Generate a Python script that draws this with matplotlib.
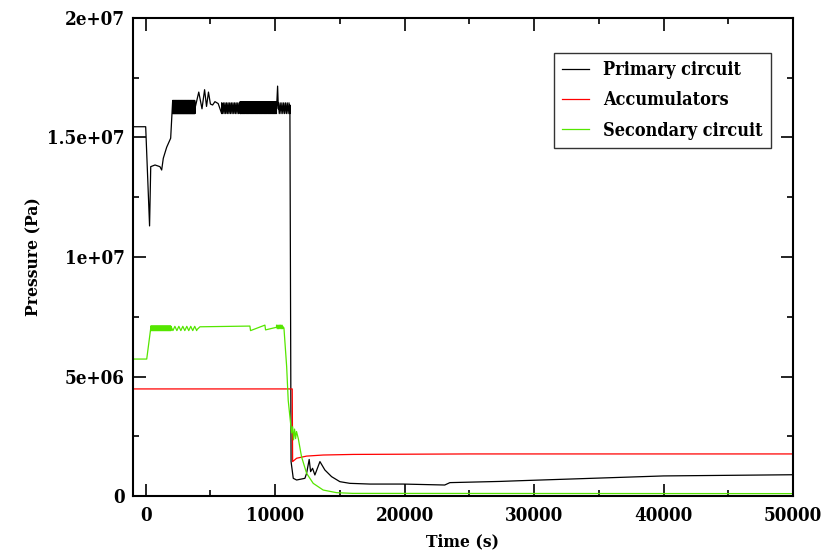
import numpy as np
import matplotlib
matplotlib.use("Agg")
import matplotlib.pyplot as plt
from matplotlib.ticker import MultipleLocator

# key points: time (s), pressure (Pa)
primary_t = [-2000, 0, 300, 390, 720, 1100, 1235, 1360, 1620, 1930, 2085]
primary_p = [1.545e7, 1.545e7, 1.13e7, 1.378e7, 1.385e7, 1.378e7, 1.364e7, 1.413e7, 1.459e7, 1.497e7, 1.654e7]
primary_mid_t = [3800, 4100, 4350, 4550, 4700, 4850, 5000, 5170, 5350, 5600, 5870]
primary_mid_p = [1.62e7, 1.69e7, 1.62e7, 1.70e7, 1.63e7, 1.69e7, 1.64e7, 1.636e7, 1.65e7, 1.642e7, 1.60e7]
primary_spike_t = [10100, 10190, 10250]
primary_spike_p = [1.61e7, 1.715e7, 1.62e7]
primary_end_t = [11140, 11230, 11400, 11660, 12300, 12430, 12630, 12740, 12890, 13070, 13460,
                 13840, 14360, 15000, 15770, 17320, 19870, 23100, 23500, 27350, 28900, 40000, 50000]
primary_end_p = [1.636e7, 1.44e6, 0.74e6, 0.67e6, 0.74e6, 0.95e6, 1.53e6, 1.02e6, 1.16e6, 0.88e6, 1.44e6,
                 1.09e6, 0.81e6, 0.60e6, 0.53e6, 0.50e6, 0.50e6, 0.46e6, 0.56e6, 0.61e6, 0.64e6, 0.84e6, 0.89e6]
# oscillating stretches: (start, end, low, high, cycles)
primary_bands = [(2085, 3800, 1.60e7, 1.655e7, 60),
                 (5870, 7300, 1.60e7, 1.645e7, 12),
                 (7300, 10100, 1.60e7, 1.65e7, 45),
                 (10250, 11140, 1.60e7, 1.645e7, 7)]

accu_t = [-2000, 11320, 11350, 11660, 12430, 13710, 16030, 25000, 50000]
accu_p = [4.48e6, 4.48e6, 1.44e6, 1.58e6, 1.67e6, 1.715e6, 1.74e6, 1.76e6, 1.76e6]

second_t = [-2000, 80, 390]
second_p = [5.73e6, 5.73e6, 7.02e6]
second_mid_t = [3940, 4190, 8050, 8100, 9210, 9260, 10110]
second_mid_p = [6.95e6, 7.08e6, 7.11e6, 6.92e6, 7.15e6, 6.95e6, 7.06e6]
second_end_t = [10580, 10680, 10890, 11010, 11270, 11350, 11420, 11500, 11580, 11650, 11790,
                12040, 12430, 12940, 13710, 14740, 16000, 50000]
second_end_p = [7.1e6, 7.03e6, 5.41e6, 4.0e6, 2.64e6, 2.9e6, 2.35e6, 2.8e6, 2.4e6, 2.7e6, 2.4e6,
                1.64e6, 0.95e6, 0.53e6, 0.25e6, 0.14e6, 0.11e6, 0.10e6]
second_bands = [(390, 1950, 6.92e6, 7.11e6, 40),
                (1950, 3940, 6.92e6, 7.10e6, 7),
                (10110, 10580, 7.0e6, 7.15e6, 5)]


def zigzag(start, end, low, high, cycles):
    t = np.linspace(start, end, 2 * cycles)
    p = np.tile([high, low], cycles)
    return list(t), list(p)


def assemble(pieces):
    t, p = [], []
    for pt, pp in pieces:
        t += list(pt)
        p += list(pp)
    return t, p


b = [zigzag(*band) for band in primary_bands]
prim_t, prim_p = assemble([(primary_t, primary_p), b[0], (primary_mid_t, primary_mid_p),
                           b[1], b[2], (primary_spike_t, primary_spike_p), b[3],
                           (primary_end_t, primary_end_p)])
s = [zigzag(*band) for band in second_bands]
sec_t, sec_p = assemble([(second_t, second_p), s[0], s[1], (second_mid_t, second_mid_p),
                         s[2], (second_end_t, second_end_p)])

plt.rcParams["font.family"] = ["DejaVu Serif"]
plt.rcParams["font.stretch"] = "condensed"
plt.rcParams["font.weight"] = "bold"
plt.rcParams["axes.labelweight"] = "bold"

fig = plt.figure(figsize=(8.26, 5.57), dpi=100)
ax = fig.add_axes([0.1607, 0.1095, 0.7993, 0.8582])

ax.plot(prim_t, prim_p, color="black", lw=0.9, label="Primary circuit")
ax.plot(accu_t, accu_p, color="#ff0000", lw=0.9, label="Accumulators")
ax.plot(sec_t, sec_p, color="#55e600", lw=0.9, label="Secondary circuit")

ax.set_xlim(-1000, 50000)
ax.set_ylim(0, 2e7)
ax.xaxis.set_major_locator(MultipleLocator(10000))
ax.xaxis.set_minor_locator(MultipleLocator(5000))
ax.yaxis.set_major_locator(MultipleLocator(5e6))
ax.yaxis.set_minor_locator(MultipleLocator(2.5e6))
ax.set_yticks([0, 5e6, 1e7, 1.5e7, 2e7])
ax.set_yticklabels(["0", "5e+06", "1e+07", "1.5e+07", "2e+07"])
ax.tick_params(which="both", direction="in", top=True, right=True, width=1.2,
               labelsize=13.5)
ax.tick_params(axis="x", pad=8)
ax.tick_params(axis="y", pad=6)
ax.tick_params(which="major", length=9)
ax.tick_params(which="minor", length=4.5)
for sp in ax.spines.values():
    sp.set_linewidth(1.5)

ax.set_xlabel("Time (s)", fontsize=12.5, labelpad=6)
ax.set_ylabel("Pressure (Pa)", fontsize=12.5, labelpad=3)

leg = ax.legend(loc="upper right", bbox_to_anchor=(0.9667, 0.927), fontsize=13,
                frameon=True, fancybox=False, edgecolor="black", handlelength=1.5,
                handletextpad=0.8, borderpad=0.45, labelspacing=0.68, borderaxespad=0)
leg.get_frame().set_linewidth(1.0)

fig.savefig("out.png", dpi=100)
